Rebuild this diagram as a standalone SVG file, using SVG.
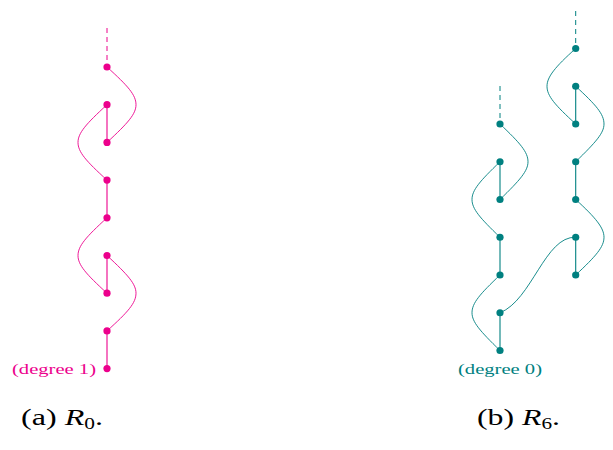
<svg xmlns="http://www.w3.org/2000/svg" width="613" height="450" viewBox="0 0 613 450">
<style>
.m{stroke:#EC008C;fill:none}
.t{stroke:#008080;fill:none}
.s{stroke-width:1.1}
.c{stroke-width:0.9}
.d{stroke-width:1;stroke-dasharray:5 4}
.nm{fill:#EC008C}
.nt{fill:#008080}
.lbl{font-family:"Liberation Serif",serif;font-size:15px}
.cap{font-family:"Liberation Serif",serif;font-size:24px;fill:#000}
</style>
<defs>
<circle id="dot" r="3.6"/>
</defs>
<g id="connectors">
<!-- R0 -->
<line class="m d" x1="107" y1="28" x2="107" y2="63"/>
<path class="m c" d="M107,67 C128,86 136,95 136,104.7 C136,114 128,123 107,142.4"/>
<line class="m s" x1="107" y1="104.7" x2="107" y2="142.4"/>
<path class="m c" d="M107,104.7 C86,124 78,133 78,142.4 C78,152 86,161 107,180.1"/>
<line class="m s" x1="107" y1="180.1" x2="107" y2="217.8"/>
<path class="m c" d="M107,217.8 C86,237 78,246 78,255.5 C78,265 86,274 107,293.2"/>
<line class="m s" x1="107" y1="255.5" x2="107" y2="293.2"/>
<path class="m c" d="M107,255.5 C128,275 136,284 136,293.2 C136,303 128,312 107,330.9"/>
<line class="m s" x1="107" y1="330.9" x2="107" y2="368.6"/>
<!-- R6 -->
<line class="t d" x1="575.7" y1="11" x2="575.7" y2="44"/>
<line class="t d" x1="500" y1="86" x2="500" y2="120"/>
<path class="t c" d="M575.7,48.5 C555,67 547,77 547,86.25 C547,96 555,105 575.7,124"/>
<line class="t s" x1="575.7" y1="86.25" x2="575.7" y2="124"/>
<path class="t c" d="M575.7,86.25 C596,105 604,114 604,124 C604,133 596,142 575.7,161.75"/>
<line class="t s" x1="575.7" y1="161.75" x2="575.7" y2="199.5"/>
<path class="t c" d="M575.7,199.5 C596,218 604,228 604,237.25 C604,247 596,256 575.7,275"/>
<line class="t s" x1="575.7" y1="237.25" x2="575.7" y2="275"/>
<path class="t c" d="M575.7,237.25 C545,236 532,300 500,312.75"/>
<path class="t c" d="M500,124 C520,143 528,152 528,161.75 C528,171 520,180 500,199.5"/>
<line class="t s" x1="500" y1="161.75" x2="500" y2="199.5"/>
<path class="t c" d="M500,161.75 C480,181 472,190 472,199.5 C472,209 480,218 500,237.25"/>
<line class="t s" x1="500" y1="237.25" x2="500" y2="275"/>
<path class="t c" d="M500,275 C480,294 472,303 472,312.75 C472,322 480,331 500,350.5"/>
<line class="t s" x1="500" y1="312.75" x2="500" y2="350.5"/>
</g>
<g id="R0-nodes" class="nm">
<use href="#dot" x="107" y="67"/>
<use href="#dot" x="107" y="104.7"/>
<use href="#dot" x="107" y="142.4"/>
<use href="#dot" x="107" y="180.1"/>
<use href="#dot" x="107" y="217.8"/>
<use href="#dot" x="107" y="255.5"/>
<use href="#dot" x="107" y="293.2"/>
<use href="#dot" x="107" y="330.9"/>
<use href="#dot" x="107" y="368.6"/>
</g>
<g id="R6-nodes" class="nt">
<use href="#dot" x="575.7" y="48.5"/>
<use href="#dot" x="575.7" y="86.25"/>
<use href="#dot" x="575.7" y="124"/>
<use href="#dot" x="575.7" y="161.75"/>
<use href="#dot" x="575.7" y="199.5"/>
<use href="#dot" x="575.7" y="237.25"/>
<use href="#dot" x="575.7" y="275"/>
<use href="#dot" x="500" y="124"/>
<use href="#dot" x="500" y="161.75"/>
<use href="#dot" x="500" y="199.5"/>
<use href="#dot" x="500" y="237.25"/>
<use href="#dot" x="500" y="275"/>
<use href="#dot" x="500" y="312.75"/>
<use href="#dot" x="500" y="350.5"/>
</g>
<g id="label-R0">
<text class="lbl" x="96" y="373.5" text-anchor="end" fill="#EC008C" textLength="84" lengthAdjust="spacingAndGlyphs">(degree 1)</text>
</g>
<g id="label-R6">
<text class="lbl" x="500" y="373.5" text-anchor="middle" fill="#008080" textLength="84" lengthAdjust="spacingAndGlyphs">(degree 0)</text>
</g>
<g id="caption-a">
<text class="cap" x="21" y="425" textLength="82" lengthAdjust="spacingAndGlyphs">(a) <tspan font-style="italic">R</tspan><tspan font-size="16" dy="4">0</tspan><tspan dy="-4">.</tspan></text>
</g>
<g id="caption-b">
<text class="cap" x="477" y="425" textLength="83" lengthAdjust="spacingAndGlyphs">(b) <tspan font-style="italic">R</tspan><tspan font-size="16" dy="4">6</tspan><tspan dy="-4">.</tspan></text>
</g>
</svg>
